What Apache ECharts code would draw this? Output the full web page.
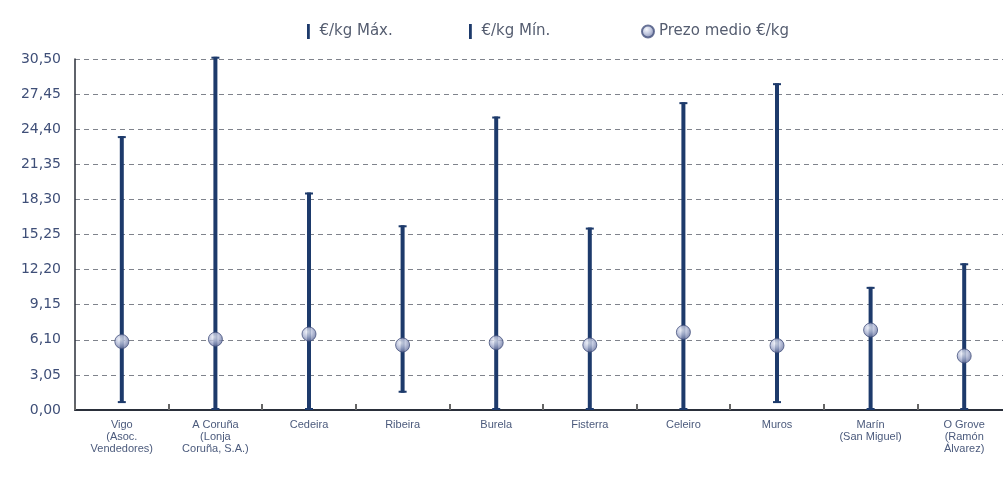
<!DOCTYPE html>
<html>
<head>
<meta charset="utf-8">
<script src="https://cdn.jsdelivr.net/npm/echarts@6/dist/echarts.min.js"></script>
<style>
html,body{margin:0;padding:0;background:#fff;}
#c{width:1003px;height:483px;}
</style>
</head>
<body>
<div id="c"></div>
<script>
const categories = [
  "Vigo\n(Asoc.\nVendedores)",
  "A Coruña\n(Lonja\nCoruña, S.A.)",
  "Cedeira",
  "Ribeira",
  "Burela",
  "Fisterra",
  "Celeiro",
  "Muros",
  "Marín\n(San Miguel)",
  "O Grove\n(Ramón\nÁlvarez)"
];
const maxValues  = [23.8, 30.7, 18.9, 16.05, 25.5, 15.85, 26.75, 28.4, 10.7, 12.75];
const minValues  = [0.6, 0, 0, 1.5, 0, 0, 0, 0.6, 0, 0];
const meanValues = [5.95, 6.15, 6.6, 5.65, 5.85, 5.65, 6.75, 5.6, 6.95, 4.7];
const seriesNames = ["€/kg Máx.", "€/kg Mín.", "Prezo medio €/kg"];
const yMin = 0, yMax = 30.5, yStep = 3.05;

const BAR = '#1d3a6b';
const rangeData = categories.map((c, i) => [i, minValues[i], maxValues[i]]);
const barIcon = 'path://M0,0L3,0L3,16L0,16Z';
const legendText = {color: '#555d70', fontSize: 15, fontFamily: 'DejaVu Sans, sans-serif'};

function mkLegend(name, icon, left) {
  return {
    data: [{name: name, icon: icon}],
    left: left, top: 19,
    itemWidth: 12, itemHeight: 15, itemGap: 4,
    textStyle: legendText
  };
}

const chart = echarts.init(document.getElementById('c'), null, {renderer: 'canvas'});
chart.setOption({
  backgroundColor: '#ffffff',
  animation: false,
  legend: [
    mkLegend(seriesNames[0], barIcon, 302),
    mkLegend(seriesNames[1], barIcon, 464),
    mkLegend(seriesNames[2], 'circle', 636)
  ],
  grid: {left: 75, top: 59, width: 936, bottom: 73, containLabel: false, outerBoundsMode: 'none'},
  xAxis: {
    type: 'category',
    data: categories,
    boundaryGap: true,
    axisLine: {lineStyle: {color: '#2a2f3a', width: 2}},
    axisTick: {show: true, inside: true, length: 6, lineStyle: {color: '#666', width: 2}},
    axisLabel: {
      interval: 0, margin: 9, color: '#4b5a7c', fontSize: 11, lineHeight: 12,
      fontFamily: 'Liberation Sans Narrow, Arial Narrow, Liberation Sans, sans-serif'
    },
    splitLine: {show: false}
  },
  yAxis: {
    type: 'value',
    min: yMin, max: yMax, interval: yStep,
    axisLine: {show: true, lineStyle: {color: '#2a2f3a', width: 1.5}},
    axisTick: {show: false},
    axisLabel: {
      margin: 14, color: '#3f4f78', fontSize: 14,
      fontFamily: 'DejaVu Sans, sans-serif',
      formatter: v => v.toFixed(2).replace('.', ',')
    },
    splitLine: {show: true, lineStyle: {color: '#7f838c', type: [5, 4], width: 1}}
  },
  series: [
    {
      name: seriesNames[0],
      type: 'custom',
      itemStyle: {color: BAR},
      data: rangeData,
      encode: {x: 0, y: [1, 2]},
      z: 3,
      renderItem: function (params, api) {
        const lo = api.coord([api.value(0), api.value(1)]);
        const hi = api.coord([api.value(0), api.value(2)]);
        return {
          type: 'group',
          children: [
            {type: 'line', shape: {x1: lo[0], y1: lo[1], x2: hi[0], y2: hi[1]},
             style: {stroke: BAR, lineWidth: 4}},
            {type: 'line', shape: {x1: hi[0] - 4, y1: hi[1] + 1, x2: hi[0] + 4, y2: hi[1] + 1},
             style: {stroke: BAR, lineWidth: 2}}
          ]
        };
      }
    },
    {
      name: seriesNames[1],
      type: 'custom',
      itemStyle: {color: BAR},
      data: rangeData,
      encode: {x: 0, y: 1},
      z: 3,
      renderItem: function (params, api) {
        const lo = api.coord([api.value(0), api.value(1)]);
        return {
          type: 'line', shape: {x1: lo[0] - 4, y1: lo[1] - 1, x2: lo[0] + 4, y2: lo[1] - 1},
          style: {stroke: BAR, lineWidth: 2}
        };
      }
    },
    {
      name: seriesNames[2],
      type: 'scatter',
      data: meanValues,
      symbol: 'circle',
      symbolSize: 14,
      z: 5,
      itemStyle: {
        color: {
          type: 'radial', x: 0.4, y: 0.35, r: 0.7,
          colorStops: [
            {offset: 0, color: '#f4f6fc'},
            {offset: 0.45, color: '#b4bcd8'},
            {offset: 1, color: '#5a6694'}
          ]
        },
        borderColor: '#46527e',
        borderWidth: 1
      }
    }
  ]
});
</script>
</body>
</html>
